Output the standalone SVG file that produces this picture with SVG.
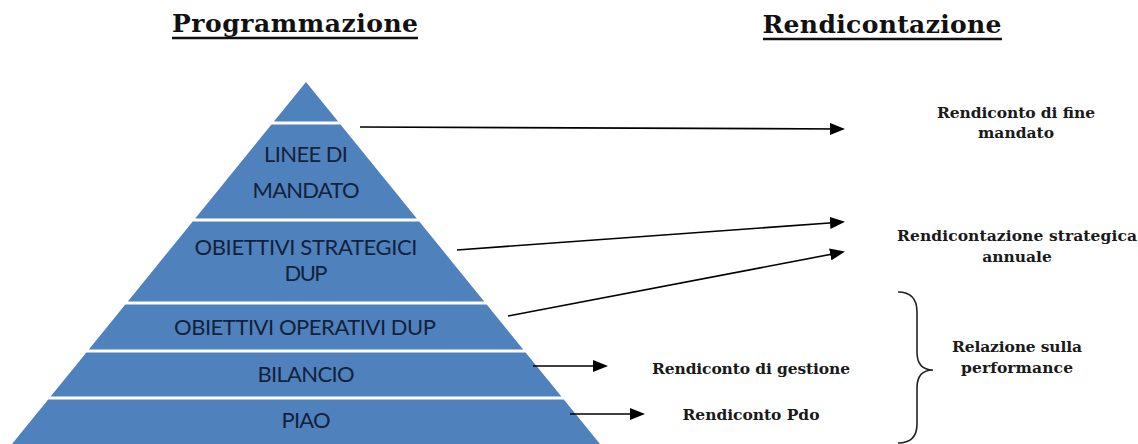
<svg xmlns="http://www.w3.org/2000/svg" width="1138" height="444" viewBox="0 0 1138 444">
<style>
.band{fill:#4F81BD}
.pt{font-family:Lato,"Liberation Sans",sans-serif;font-size:22px;fill:#14213A;text-anchor:middle}
.lbl{font-family:"DejaVu Serif","Liberation Serif",serif;font-weight:bold;font-size:15.5px;fill:#1a1a1a;text-anchor:middle}
.hd{font-family:"DejaVu Serif","Liberation Serif",serif;font-weight:bold;font-size:25px;fill:#111;text-anchor:middle}
.ul{stroke:#111;stroke-width:2.5}
.conn line{stroke:#000;stroke-width:1.6;marker-end:url(#ah)}
</style>
<defs>
<marker id="ah" markerUnits="userSpaceOnUse" markerWidth="15" markerHeight="12" refX="13" refY="6" orient="auto">
<path d="M0,0 L15,6 L0,12 Z" fill="#000"/>
</marker>
</defs>
<rect width="1138" height="444" fill="#fff"/>
<g id="header-programmazione">
<text class="hd" x="295" y="32" textLength="246">Programmazione</text>
<line class="ul" x1="172" y1="38" x2="418" y2="38"/>
</g>
<g id="header-rendicontazione">
<text class="hd" x="882" y="33" textLength="239">Rendicontazione</text>
<line class="ul" x1="763" y1="39" x2="1002" y2="39"/>
</g>
<g id="apex"><polygon class="band" points="306,82 338.1,121.5 273.9,121.5"/></g>
<g id="linee-mandato">
<polygon class="band" points="271.5,124.5 340.5,124.5 416.8,218.5 195.2,218.5"/>
<text class="pt" x="306" y="162" textLength="84">LINEE DI</text>
<text class="pt" x="306" y="198" textLength="107">MANDATO</text>
</g>
<g id="obiettivi-strategici">
<polygon class="band" points="192.7,221.5 419.3,221.5 484.2,301.5 127.8,301.5"/>
<text class="pt" x="306" y="255" textLength="223">OBIETTIVI STRATEGICI</text>
<text class="pt" x="306" y="281" textLength="43">DUP</text>
</g>
<g id="obiettivi-operativi">
<polygon class="band" points="125.3,304.5 486.7,304.5 523.2,349.5 88.8,349.5"/>
<text class="pt" x="305" y="335" textLength="262">OBIETTIVI OPERATIVI DUP</text>
</g>
<g id="bilancio">
<polygon class="band" points="86.4,352.5 525.6,352.5 561.4,396.5 50.6,396.5"/>
<text class="pt" x="306" y="382" textLength="97">BILANCIO</text>
</g>
<g id="piao">
<polygon class="band" points="48.2,399.5 563.8,399.5 600,444 12,444"/>
<text class="pt" x="306" y="428" textLength="49">PIAO</text>
</g>
<g id="rendiconto-fine-mandato">
<text class="lbl" x="1016" y="118" textLength="158">Rendiconto di fine</text>
<text class="lbl" x="1016" y="138">mandato</text>
</g>
<g id="rendicontazione-strategica">
<text class="lbl" x="1017" y="241" textLength="240">Rendicontazione strategica</text>
<text class="lbl" x="1017" y="262">annuale</text>
</g>
<g id="rendiconto-gestione">
<text class="lbl" x="751" y="374" textLength="198">Rendiconto di gestione</text>
</g>
<g id="rendiconto-pdo">
<text class="lbl" x="751" y="420" textLength="137">Rendiconto Pdo</text>
</g>
<g id="relazione-performance">
<path d="M898,292 Q917,292 917,312 L917,352 Q917,370 933,370 Q917,370 917,388 L917,424 Q917,443 898,443" fill="none" stroke="#222" stroke-width="1.6"/>
<text class="lbl" x="1017" y="352" textLength="130">Relazione sulla</text>
<text class="lbl" x="1017" y="373" textLength="112">performance</text>
</g>
<g id="connectors" class="conn">
<line x1="360" y1="127" x2="843" y2="129"/>
<line x1="457" y1="250" x2="843" y2="222"/>
<line x1="508" y1="316" x2="843" y2="252"/>
<line x1="533" y1="366" x2="606" y2="366"/>
<line x1="570" y1="414" x2="643" y2="414"/>
</g>
</svg>
